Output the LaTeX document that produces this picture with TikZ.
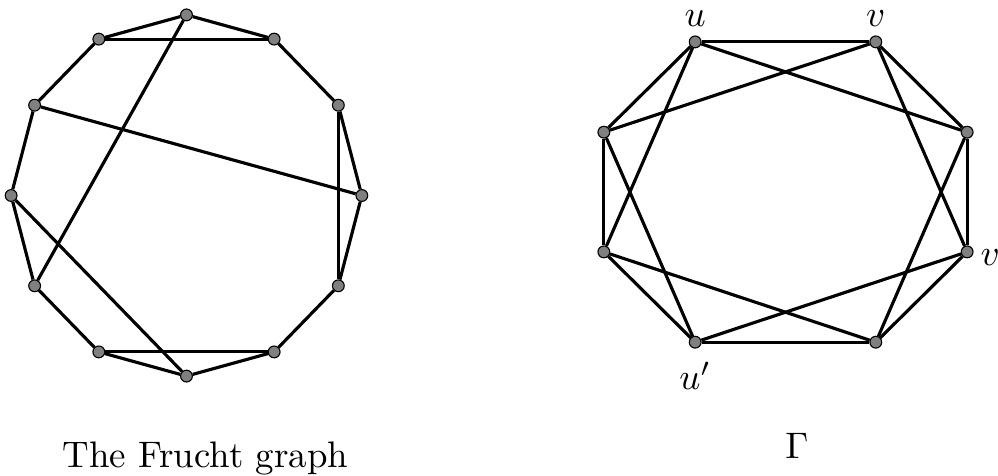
\documentclass[tikz,border=0pt]{standalone}
\begin{document}
\begin{tikzpicture}[
  vert/.style={circle,draw=black,fill=gray,line width=0.3pt,inner sep=0pt,minimum size=3.2pt},
  gedge/.style={line width=0.85pt}]
\useasboundingbox (0,0) rectangle (9.505,4.524);

% the Frucht graph
\begin{scope}[shift={(1.776,2.662)}]
\foreach \i in {0,...,11}
  \node[vert] (f\i) at ({1.67*cos(90-30*\i)},{1.72*sin(90-30*\i)}) {};
\end{scope}
\foreach \i in {0,...,11}{
  \pgfmathtruncatemacro\j{mod(\i+1,12)}
  \draw[gedge] (f\i) -- (f\j);
}
\foreach \a/\b in {11/1,2/4,5/7,10/3,0/8,9/6}
  \draw[gedge] (f\a) -- (f\b);
\node[anchor=base] (cap1) at (1.957,0.076) {The Frucht graph};

% Gamma
\begin{scope}[shift={(7.481,2.695)}]
\node[vert,label={[label distance=-1pt]above:$u$}] (u) at (-0.86,1.43) {};
\node[vert,label={[label distance=-1pt]above:$v$}] (v) at (0.86,1.43) {};
\node[vert] (a) at (1.73,0.57) {};
\node[vert,label={[label distance=-1.6pt]right:$v'$}] (vp) at (1.73,-0.57) {};
\node[vert] (b) at (0.86,-1.43) {};
\node[vert,label=below:$u'$] (up) at (-0.86,-1.43) {};
\node[vert] (c) at (-1.73,-0.57) {};
\node[vert] (d) at (-1.73,0.57) {};
\end{scope}
\foreach \a/\b in {u/v,u/d,u/c,u/a,v/a,v/vp,v/d,d/c,d/up,c/up,c/b,a/vp,a/b,vp/b,vp/up,up/b}
  \draw[gedge] (\a) -- (\b);
\node[anchor=base] (cap2) at (7.59,0.162) {$\Gamma$};
\end{tikzpicture}
\end{document}
